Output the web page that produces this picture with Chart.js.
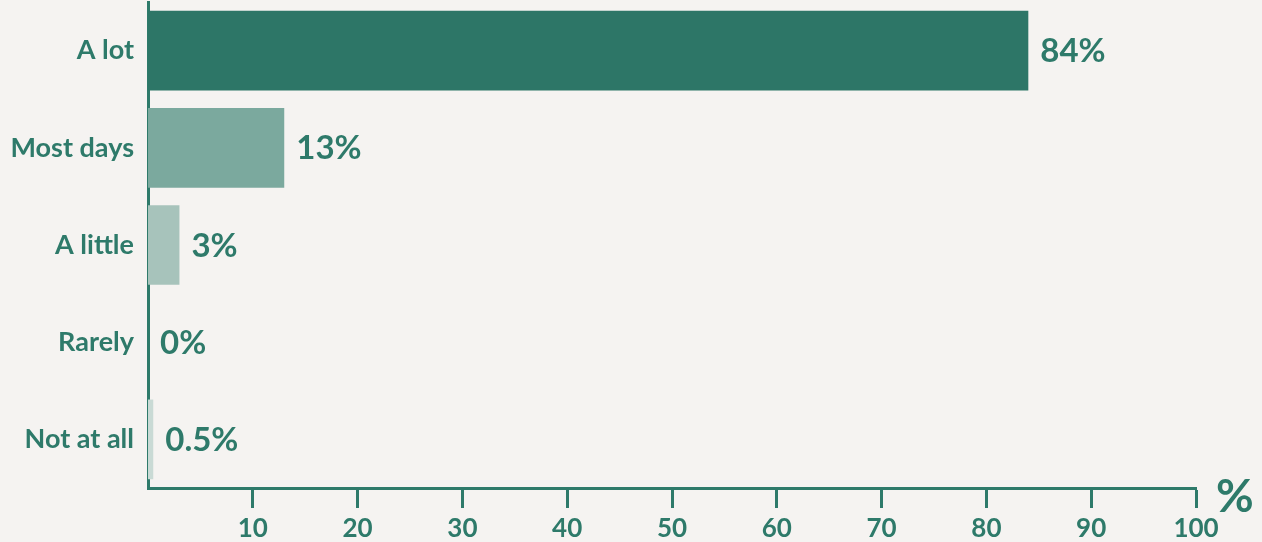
<!DOCTYPE html>
<html>
<head>
<meta charset="utf-8">
<script src="https://cdn.jsdelivr.net/npm/chart.js@4.4.1/dist/chart.umd.min.js"></script>
<style>
  html, body { margin: 0; padding: 0; background: #f5f3f1; }
  #wrap { width: 1262px; height: 542px; position: relative; }
</style>
</head>
<body>
<div id="wrap"><canvas id="chart"></canvas></div>
<script>
// How often: share of respondents (%)
const categories = ['A lot', 'Most days', 'A little', 'Rarely', 'Not at all'];
const shares = [84, 13, 3, 0, 0.5];
const xTickValues = [10, 20, 30, 40, 50, 60, 70, 80, 90, 100];
const unitLabel = '%';

const ink = '#2e7a6a';
const barColors = ['#2d7667', '#7ba99e', '#a7c3bb', '#dde8e4', '#c9dad5'];
const fontFamily = 'Lato, "Open Sans", sans-serif';

// Value label to the right of each bar
const valueLabels = {
  id: 'valueLabels',
  afterDatasetsDraw(chart) {
    const { ctx } = chart;
    const meta = chart.getDatasetMeta(0);
    ctx.save();
    ctx.fillStyle = ink;
    ctx.font = `bold 33px ${fontFamily}`;
    ctx.textAlign = 'left';
    ctx.textBaseline = 'middle';
    meta.data.forEach((bar, i) => {
      ctx.fillText(shares[i] + '%', bar.x + 12, bar.y + 1);
    });
    ctx.restore();
  }
};

// Unit sign at the end of the value axis
const unitSign = {
  id: 'unitSign',
  afterDraw(chart) {
    const { ctx } = chart;
    const x = chart.scales.x;
    ctx.save();
    ctx.fillStyle = ink;
    ctx.font = `bold 46px ${fontFamily}`;
    ctx.textAlign = 'left';
    ctx.textBaseline = 'alphabetic';
    ctx.fillText(unitLabel, x.right + 20, x.top + 24);
    ctx.restore();
  }
};

function draw() {
  new Chart(document.getElementById('chart'), {
    type: 'bar',
    data: {
      labels: categories,
      datasets: [{
        data: shares,
        backgroundColor: barColors,
        borderWidth: 0,
        barPercentage: 0.82,
        categoryPercentage: 1
      }]
    },
    options: {
      indexAxis: 'y',
      responsive: true,
      maintainAspectRatio: false,
      animation: false,
      layout: { padding: { top: 2, right: 66, bottom: 0, left: 0 } },
      plugins: {
        legend: { display: false },
        tooltip: { enabled: false }
      },
      scales: {
        x: {
          type: 'linear',
          min: 0,
          max: 100,
          afterBuildTicks(axis) {
            axis.ticks = xTickValues.map(v => ({ value: v }));
          },
          afterFit(axis) { axis.height = 54; },
          ticks: {
            color: ink,
            font: { family: fontFamily, size: 26, weight: 'bold', lineHeight: 1.0 },
            padding: 8,
            maxRotation: 0,
            autoSkip: false
          },
          grid: {
            drawOnChartArea: false,
            drawTicks: true,
            tickLength: 20,
            tickWidth: 3,
            tickColor: ink
          },
          border: { display: true, color: ink, width: 3 }
        },
        y: {
          type: 'category',
          afterFit(axis) {
            axis.width = 148;
            axis.paddingTop = 0;
            axis.paddingBottom = 0;
          },
          ticks: {
            color: ink,
            font: { family: fontFamily, size: 27, weight: 'bold' },
            padding: 14
          },
          grid: { display: false, drawTicks: false },
          border: { display: true, color: ink, width: 3 }
        }
      }
    },
    plugins: [valueLabels, unitSign]
  });
}

if (document.fonts && document.fonts.load) {
  Promise.all([
    document.fonts.load(`bold 26px Lato`),
    document.fonts.load(`bold 33px Lato`)
  ]).then(draw, draw);
} else {
  draw();
}
</script>
</body>
</html>
